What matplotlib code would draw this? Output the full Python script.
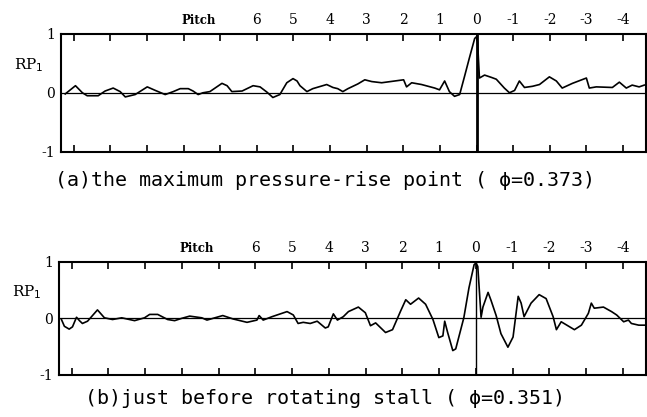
import matplotlib.pyplot as plt

# ---- data (pitch position, RP1) ----
pitch_a = [11.23, 10.95, 10.76, 10.63, 10.33, 10.14, 9.92, 9.73, 9.59, 9.32,
           8.99, 8.77, 8.50, 8.28, 8.09, 7.87, 7.74, 7.60, 7.47, 7.28,
           6.95, 6.81, 6.68, 6.40, 6.10, 5.91, 5.72, 5.56, 5.37, 5.18,
           5.01, 4.90, 4.82, 4.63, 4.47, 4.09, 3.92, 3.79, 3.65, 3.51,
           3.24, 3.05, 2.86, 2.59, 2.23, 1.99, 1.91, 1.77, 1.50, 1.14,
           1.01, 0.87, 0.74, 0.60, 0.46, 0.33, 0.19, 0.05, 0.00, -0.03,
           -0.08, -0.22, -0.41, -0.54, -0.76, -0.90, -1.04, -1.17, -1.31, -1.53,
           -1.72, -1.99, -2.18, -2.34, -2.62, -3.00, -3.08, -3.27, -3.71, -3.90,
           -4.09, -4.25, -4.44, -4.58]
rp_a = [-0.02, 0.12, 0.00, -0.05, -0.05, 0.03, 0.08, 0.02, -0.07, -0.03,
        0.10, 0.04, -0.03, 0.02, 0.07, 0.07, 0.03, -0.03, 0.00, 0.02,
        0.16, 0.12, 0.02, 0.03, 0.12, 0.10, 0.01, -0.08, -0.03, 0.17,
        0.24, 0.20, 0.12, 0.02, 0.07, 0.14, 0.09, 0.07, 0.02, 0.07,
        0.15, 0.22, 0.19, 0.17, 0.20, 0.22, 0.10, 0.17, 0.14, 0.08,
        0.05, 0.20, 0.02, -0.06, -0.03, 0.27, 0.60, 0.92, 0.95, 0.85,
        0.25, 0.30, 0.26, 0.23, 0.08, 0.00, 0.04, 0.20, 0.09, 0.11,
        0.14, 0.27, 0.20, 0.08, 0.16, 0.25, 0.08, 0.10, 0.09, 0.18,
        0.08, 0.13, 0.10, 0.13]

pitch_b = [11.28, 11.20, 11.07, 10.98, 10.87, 10.79, 10.71, 10.57, 10.30, 10.11,
           9.89, 9.64, 9.29, 9.02, 8.88, 8.66, 8.39, 8.20, 8.01, 7.79,
           7.46, 7.32, 6.89, 6.61, 6.23, 5.96, 5.90, 5.79, 5.55, 5.14,
           4.97, 4.84, 4.70, 4.51, 4.32, 4.10, 4.02, 3.88, 3.77, 3.61,
           3.47, 3.20, 3.01, 2.87, 2.73, 2.46, 2.27, 2.05, 1.91, 1.78,
           1.56, 1.37, 1.17, 1.01, 0.90, 0.85, 0.77, 0.63, 0.55, 0.33,
           0.19, 0.05, 0.00, -0.05, -0.14, -0.19, -0.33, -0.41, -0.55, -0.68,
           -0.87, -1.01, -1.09, -1.15, -1.23, -1.31, -1.50, -1.72, -1.91, -2.10,
           -2.19, -2.32, -2.68, -2.87, -3.06, -3.14, -3.22, -3.47, -3.69, -3.83,
           -4.02, -4.15, -4.23, -4.43, -4.59]
rp_b = [-0.02, -0.14, -0.19, -0.15, 0.02, -0.04, -0.09, -0.05, 0.15, 0.01,
        -0.02, 0.01, -0.04, 0.01, 0.07, 0.07, -0.02, -0.04, 0.00, 0.04,
        0.01, -0.03, 0.05, -0.01, -0.07, -0.03, 0.05, -0.03, 0.03, 0.12,
        0.06, -0.09, -0.07, -0.09, -0.05, -0.17, -0.15, 0.08, -0.03, 0.03,
        0.12, 0.20, 0.10, -0.13, -0.08, -0.25, -0.20, 0.13, 0.33, 0.25,
        0.36, 0.25, -0.02, -0.34, -0.31, -0.05, -0.25, -0.57, -0.54, 0.01,
        0.54, 0.95, 0.98, 0.92, 0.02, 0.20, 0.46, 0.32, 0.05, -0.27,
        -0.51, -0.33, 0.08, 0.39, 0.27, 0.03, 0.27, 0.42, 0.35, 0.03,
        -0.20, -0.06, -0.20, -0.12, 0.09, 0.27, 0.18, 0.20, 0.12, 0.06,
        -0.06, -0.03, -0.09, -0.12, -0.12]

tick_pos = list(range(11, -5, -1))
label_pos = list(range(6, -5, -1))
label_txt = ["6", "5", "4", "3", "2", "1", "0", "-1", "-2", "-3", "-4"]
captions = ["(a)the maximum pressure-rise point ( \u03d5=0.373)",
            "(b)just before rotating stall ( \u03d5=0.351)"]

fig = plt.figure(figsize=(6.47, 4.17), dpi=100)
ax_a = fig.add_axes([0.094, 0.636, 0.904, 0.283])
ax_b = fig.add_axes([0.091, 0.101, 0.907, 0.271])

serif = "DejaVu Serif"
for ax, px, rp, vlw, cap, cap_y in [(ax_a, pitch_a, rp_a, 2.0, captions[0], 0.545),
                                    (ax_b, pitch_b, rp_b, 1.0, captions[1], 0.022)]:
    ax.plot(px, rp, color="black", lw=1.2)
    ax.axhline(0, color="black", lw=0.9)
    ax.axvline(0, color="black", lw=vlw)
    ax.set_xlim(11.35, -4.62)
    ax.set_ylim(-1, 1)
    for s in ax.spines.values():
        s.set_linewidth(1.5)
    ax.set_xticks(tick_pos)
    ax.set_xticklabels([])
    ax.tick_params(axis="x", direction="in", length=5, width=1.2,
                   top=True, bottom=True)
    ax.set_yticks([1, 0, -1])
    ax.set_yticklabels(["1", "0", "-1"], fontsize=10, family=serif)
    ax.tick_params(axis="y", length=0, pad=4)
    # pitch labels above the frame
    for p, t in zip(label_pos, label_txt):
        ax.text(p, 1.06, t, transform=ax.get_xaxis_transform(),
                ha="center", va="bottom", fontsize=10, family=serif)
    ax.text(7.6, 1.06, "Pitch", transform=ax.get_xaxis_transform(),
            ha="center", va="bottom", fontsize=8.5, fontweight="bold",
            family=serif)
    ax.text(-0.055, 0.73, "RP$_1$", transform=ax.transAxes,
            ha="center", va="center", fontsize=11, family=serif)
    fig.text(0.503, cap_y, cap, ha="center", va="bottom",
             fontsize=14.4, family="DejaVu Sans Mono")

fig.savefig("out.png", dpi=100)
